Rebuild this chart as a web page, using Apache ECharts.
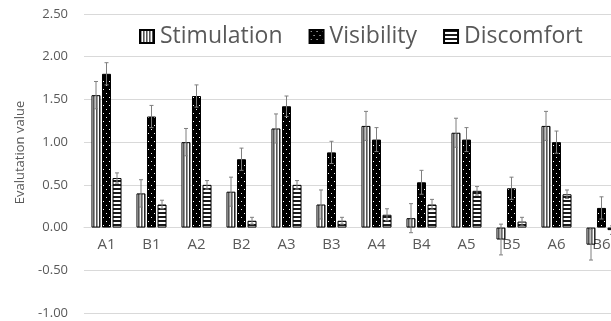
<!DOCTYPE html>
<html><head><meta charset="utf-8">
<script src="https://cdn.jsdelivr.net/npm/echarts@6/dist/echarts.min.js"></script>
<style>html,body{margin:0;padding:0;background:#fff}#c{width:611px;height:321px}</style>
</head><body><div id="c"></div>
<script>
const categories = ['A1','B1','A2','B2','A3','B3','A4','B4','A5','B5','A6','B6'];
const stimulation = [1.55,0.40,1.00,0.42,1.16,0.27,1.19,0.11,1.11,-0.14,1.19,-0.20];
const visibility  = [1.80,1.30,1.54,0.80,1.42,0.88,1.03,0.53,1.03,0.46,1.00,0.23];
const discomfort  = [0.58,0.27,0.50,0.08,0.50,0.08,0.15,0.27,0.43,0.07,0.39,-0.03];
const stimErr = [0.16,0.16,0.16,0.17,0.17,0.17,0.17,0.17,0.17,0.18,0.17,0.18];
const visErr  = [0.13,0.13,0.13,0.13,0.12,0.13,0.14,0.14,0.14,0.13,0.13,0.13];
const discErr = [0.06,0.05,0.05,0.04,0.05,0.04,0.07,0.06,0.05,0.05,0.05,0.05];
const yTicks = { min: -1, max: 2.5, interval: 0.5 };

function pat(w, h, draw) {
  const c = document.createElement('canvas'); c.width = w; c.height = h;
  const g = c.getContext('2d'); draw(g); return { image: c, repeat: 'repeat' };
}
const stimPat = pat(3, 1, g => { g.fillStyle = '#ffffff'; g.fillRect(0,0,3,1); g.fillStyle = '#555555'; g.fillRect(0,0,1,1); g.fillStyle = '#999999'; g.fillRect(1,0,1,1); });
const visPat = pat(6, 8, g => { g.fillStyle = '#000'; g.fillRect(0,0,6,8); g.fillStyle = '#fff'; g.fillRect(1,1,1,1); g.fillRect(4,5,1,1); });
const discPat = pat(1, 4, g => { g.fillStyle = '#fff'; g.fillRect(0,0,1,4); g.fillStyle = '#1a1a1a'; g.fillRect(0,0,1,2); });

const BW = 9, GAP = 1.5;
const GRID_TOP = 14, GRID_H = 299;
// place category axis on the zero line of the value axis
const zeroOffset = -GRID_H * (0 - yTicks.min) / (yTicks.max - yTicks.min);

function errSeries(vals, errs, idx) {
  return {
    type: 'custom', silent: true, z: 10,
    data: vals.map((v, i) => [i, v - errs[i], v + errs[i]]),
    renderItem: (params, api) => {
      const lo = api.coord([api.value(0), api.value(1)]);
      const hi = api.coord([api.value(0), api.value(2)]);
      const x = lo[0] + (idx - 1) * (BW + GAP);
      const st = { stroke: '#7f7f7f', lineWidth: 1 };
      return { type: 'group', children: [
        { type: 'line', shape: { x1: x, y1: lo[1], x2: x, y2: hi[1] }, style: st },
        { type: 'line', shape: { x1: x - 2, y1: hi[1], x2: x + 2, y2: hi[1] }, style: st },
        { type: 'line', shape: { x1: x - 2, y1: lo[1], x2: x + 2, y2: lo[1] }, style: st }
      ]};
    }
  };
}

const chart = echarts.init(document.getElementById('c'), null, { renderer: 'canvas' });
chart.setOption({
  animation: false,
  backgroundColor: '#fff',
  grid: { left: 84, top: GRID_TOP, width: 540, height: GRID_H, containLabel: false, outerBoundsMode: 'none' },
  legend: {
    top: 20, left: 134, itemGap: 26, itemWidth: 14, itemHeight: 13, icon: 'rect',
    textStyle: { fontFamily: 'Open Sans', fontSize: 23, color: '#595959', padding: [0,0,0,1] },
    data: ['Stimulation','Visibility','Discomfort']
  },
  xAxis: {
    type: 'category', data: categories, position: 'bottom', offset: zeroOffset,
    axisLine: { onZero: false, lineStyle: { color: '#d9d9d9' } },
    axisTick: { show: false },
    axisLabel: { color: '#595959', fontFamily: 'Open Sans', fontSize: 15, margin: 10 }
  },
  yAxis: {
    type: 'value', min: yTicks.min, max: yTicks.max, interval: yTicks.interval,
    name: 'Evalutation value', nameLocation: 'middle', nameGap: 57,
    nameTextStyle: { color: '#595959', fontFamily: 'Open Sans', fontSize: 13, padding: [0,0,0,22] },
    axisLine: { show: false }, axisTick: { show: false },
    axisLabel: { color: '#595959', fontFamily: 'Open Sans', fontSize: 13, margin: 16, formatter: v => v.toFixed(2) },
    splitLine: { lineStyle: { color: '#d9d9d9' } }
  },
  series: [
    { name: 'Stimulation', type: 'bar', data: stimulation, barWidth: BW, barGap: '17%',
      itemStyle: { color: stimPat, borderColor: '#000', borderWidth: 1 } },
    { name: 'Visibility', type: 'bar', data: visibility, barWidth: BW,
      itemStyle: { color: visPat, borderColor: '#000', borderWidth: 1 } },
    { name: 'Discomfort', type: 'bar', data: discomfort, barWidth: BW,
      itemStyle: { color: discPat, borderColor: '#000', borderWidth: 1 } },
    errSeries(stimulation, stimErr, 0),
    errSeries(visibility, visErr, 1),
    errSeries(discomfort, discErr, 2)
  ]
});
</script></body></html>
